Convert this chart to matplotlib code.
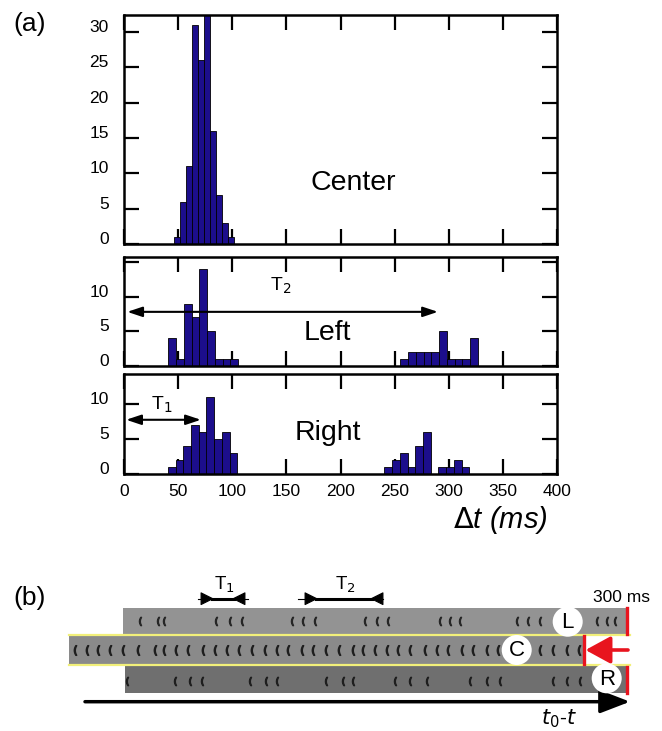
import matplotlib
matplotlib.use("Agg")
import matplotlib.pyplot as plt
from matplotlib.patches import Rectangle, Circle, FancyArrowPatch
from matplotlib.transforms import ScaledTranslation

plt.rcParams['font.family'] = ['Liberation Sans', 'DejaVu Sans']

# ---------------- data (a) ----------------
bar_color = '#1c0e8c'
center_t = [46.2, 51.7, 57.3, 62.8, 68.3, 73.9, 79.4, 84.9, 90.5, 96.0]
center_n = [1, 6, 11, 31, 26, 34, 16, 7, 3, 1]
center_w = 5.5

left_t = [41.1, 48.3, 55.4, 62.6, 69.7, 76.9, 84.0, 91.2, 98.3,
          255.4, 262.5, 269.7, 276.8, 284.0, 291.1, 298.3, 305.4, 312.5, 319.7]
left_n = [4, 1, 9, 7, 14, 5, 1, 1, 1,
          1, 2, 2, 2, 2, 5, 1, 1, 1, 4]
left_w = 7.14

right_t = [40.5, 47.6, 54.8, 61.9, 69.1, 76.2, 83.4, 90.5, 97.6,
           240.5, 247.6, 254.8, 261.9, 269.1, 276.2, 283.4, 290.5, 297.6, 304.8, 311.9]
right_n = [1, 2, 4, 7, 6, 11, 5, 6, 3,
           1, 2, 3, 1, 4, 6, 0, 1, 1, 2, 1]
right_w = 7.14

x_ticks = [0, 50, 100, 150, 200, 250, 300, 350, 400]

# ---------------- data (b) : spike positions along strips ----------------
spikes_L = [140, 158, 164, 216, 230, 242, 292, 303, 315, 365, 377, 388,
            440, 450, 460, 517, 528, 540, 597, 607, 615]
spikes_C = [75, 87, 98, 110, 123, 138, 155, 164, 176, 188, 203, 215, 227, 239,
            252, 265, 277, 288, 302, 313, 326, 339, 353, 363, 375, 387, 398, 410,
            425, 437, 448, 462, 473, 487, 498, 540, 553, 567, 579]
spikes_R = [127, 175, 190, 202, 250, 266, 277, 326, 343, 353, 395, 410, 427,
            470, 487, 500, 553, 567, 580]

W, H = 662, 731
fig = plt.figure(figsize=(W / 100, H / 100), dpi=100)


def fx(px):
    return px / W


def fy(py):
    return 1 - py / H


AX_L, AX_R = 124, 557


def make_ax(top, bottom):
    return fig.add_axes([fx(AX_L), fy(bottom), fx(AX_R) - fx(AX_L), (bottom - top) / H])


ax1 = make_ax(15, 244)
ax2 = make_ax(257, 366)
ax3 = make_ax(374, 474)

for ax, t, n, w in [(ax1, center_t, center_n, center_w),
                    (ax2, left_t, left_n, left_w),
                    (ax3, right_t, right_n, right_w)]:
    ax.bar(t, n, width=w, align='edge', color=bar_color,
           edgecolor='black', linewidth=0.6, zorder=2)
    ax.set_xlim(0, 400)
    ax.set_xticks(x_ticks)
    for s in ax.spines.values():
        s.set_linewidth(1.8)
    ax.tick_params(direction='in', length=10.5, width=1.6, top=True, right=True,
                   labelsize=12.5)
    ax.tick_params(axis='y', pad=11)
    ax.tick_params(axis='x', pad=7)

ax1.set_ylim(0, 32.4)
ax1.set_yticks([0, 5, 10, 15, 20, 25, 30])
ax2.set_ylim(0, 15.7)
ax2.set_yticks([0, 5, 10, 15])
ax2.set_yticklabels(['0', '5', '10', ''])
ax3.set_ylim(0, 14.2)
ax3.set_yticks([0, 5, 10])
ax1.tick_params(labelbottom=False)
ax2.tick_params(labelbottom=False)

off = ScaledTranslation(0, 6 / 100, fig.dpi_scale_trans)
for ax in (ax1, ax2, ax3):
    for lab in ax.get_yticklabels():
        lab.set_transform(lab.get_transform() + off)

ax1.text(0.53, 0.265, 'Center', transform=ax1.transAxes, fontsize=20.5,
         ha='center', va='center')
ax2.text(0.47, 0.3, 'Left', transform=ax2.transAxes, fontsize=20.5,
         ha='center', va='center')
ax3.text(0.47, 0.41, 'Right', transform=ax3.transAxes, fontsize=20.5,
         ha='center', va='center')

ax2.annotate('', xy=(3, 7.8), xytext=(290, 7.8),
             arrowprops=dict(arrowstyle='<|-|>,head_length=0.9,head_width=0.3',
                             color='black', lw=1.5, shrinkA=0, shrinkB=0))
ax2.text(145, 11.6, r'T$_2$', fontsize=14, ha='center', va='center')
ax3.annotate('', xy=(2, 7.7), xytext=(71, 7.7),
             arrowprops=dict(arrowstyle='<|-|>,head_length=0.9,head_width=0.3',
                             color='black', lw=1.5, shrinkA=0, shrinkB=0))
ax3.text(35, 9.8, r'T$_1$', fontsize=14, ha='center', va='center')

fig.text(fx(500), fy(520), r'$\Delta$' + 't (ms)', fontsize=21, style='italic',
         ha='center', va='center')
fig.text(fx(29.5), fy(24), '(a)', fontsize=19, ha='center', va='center')

# ---------------- panel (b) overlay ----------------
ob = fig.add_axes([0, 0, 1, 1], zorder=5)
ob.set_xlim(0, W)
ob.set_ylim(H, 0)
ob.axis('off')
ob.patch.set_visible(False)

ob.text(29.5, 598, '(b)', fontsize=19, ha='center', va='center')

# strips
ob.add_patch(Rectangle((122.7, 608.3), 627 - 122.7, 633.5 - 608.3,
                       facecolor='#939393', edgecolor='none'))
ob.add_patch(Rectangle((69.3, 635), 584.3 - 69.3, 664.5 - 635,
                       facecolor='#8a8a8a', edgecolor='none'))
ob.add_patch(Rectangle((125, 665), 627 - 125, 692.7 - 665,
                       facecolor='#6f6f6f', edgecolor='none'))
ob.plot([69.3, 630], [635, 635], color='#f2f07a', lw=1.6)
ob.plot([69.3, 630], [664.5, 664.5], color='#f2f07a', lw=1.6)

# spikes
ob.plot(spikes_L, [621] * len(spikes_L), ls='none', marker='$($',
        markersize=6, color='#262626')
ob.plot(spikes_C, [650] * len(spikes_C), ls='none', marker='$($',
        markersize=7, color='#1e1e1e')
ob.plot(spikes_R, [681] * len(spikes_R), ls='none', marker='$($',
        markersize=6, color='#1e1e1e')

# red markers
red = '#e8141e'
ob.plot([626.8, 626.8], [608.3, 633.5], color=red, lw=2.4)
ob.plot([584.3, 584.3], [636, 664], color=red, lw=2.4)
ob.plot([626.8, 626.8], [666.5, 692.7], color=red, lw=2.4)
ob.add_patch(FancyArrowPatch((628, 650), (585.5, 650),
                             arrowstyle='-|>,head_length=1.1,head_width=0.6',
                             mutation_scale=14, color=red, lw=2.6,
                             shrinkA=0, shrinkB=0))

# circle labels
for cx, cy, s in [(567.7, 621.7, 'L'), (516.7, 650, 'C'), (606.7, 678.3, 'R')]:
    ob.add_patch(Circle((cx, cy), 15, facecolor='white', edgecolor='none', zorder=6))
    ob.text(cx, cy + 1, s, fontsize=16, ha='center', va='center', zorder=7)

ob.text(621.7, 598, '300 ms', fontsize=12.5, ha='center', va='center')

# bottom time arrow
ob.add_patch(FancyArrowPatch((85, 701.7), (630, 701.7),
                             arrowstyle='-|>,head_length=1.3,head_width=0.5',
                             mutation_scale=14, color='black', lw=2.5,
                             shrinkA=0, shrinkB=0))
ob.text(559, 719, r'$t_0$-$t$', fontsize=15, ha='center', va='center')

# T1 / T2 brackets
for x0, a, b, x1, lab, lx in [(198, 212, 234, 248, r'T$_1$', 224),
                              (298, 316, 372, 383, r'T$_2$', 345)]:
    ob.plot([x0, x1], [598.7, 598.7], color='black', lw=0.8)
    ob.plot([a, b], [598.7, 598.7], color='black', lw=2.2)
    ob.add_patch(FancyArrowPatch((a - 8, 598.7), (a + 2, 598.7),
                                 arrowstyle='-|>,head_length=0.7,head_width=0.35',
                                 mutation_scale=12, color='black', lw=0.8,
                                 shrinkA=0, shrinkB=0))
    ob.add_patch(FancyArrowPatch((b + 8, 598.7), (b - 2, 598.7),
                                 arrowstyle='-|>,head_length=0.7,head_width=0.35',
                                 mutation_scale=12, color='black', lw=0.8,
                                 shrinkA=0, shrinkB=0))
    ob.text(lx, 585, lab, fontsize=13.5, ha='center', va='center')

fig.savefig('out.png', dpi=100)
